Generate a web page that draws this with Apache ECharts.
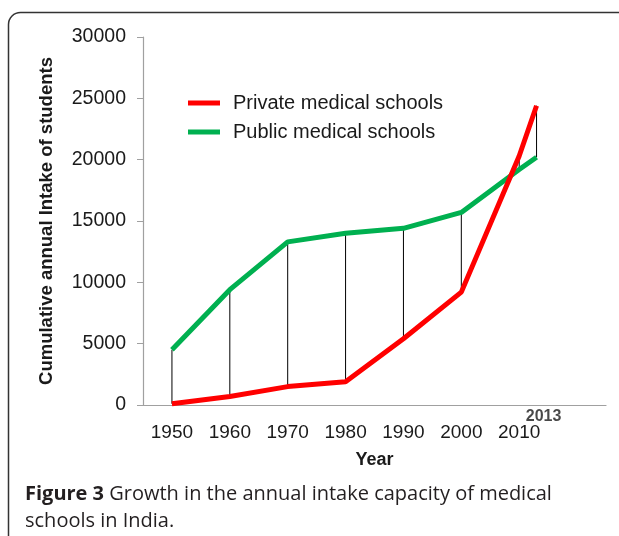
<!DOCTYPE html>
<html><head><meta charset="utf-8">
<script src="https://cdn.jsdelivr.net/npm/echarts@6/dist/echarts.min.js"></script>
<style>html,body{margin:0;padding:0;background:#fff}#c{width:619px;height:536px}</style>
</head><body><div id="c"></div>
<script>
var years = [1950, 1960, 1970, 1980, 1990, 2000, 2010, 2013];
var privateSchools = [100, 700, 1500, 1900, 5400, 9200, 20300, 24400];
var publicSchools = [4500, 9400, 13300, 14000, 14400, 15700, 19200, 20200];
var yTicks = [0, 5000, 10000, 15000, 20000, 25000, 30000];
var xLabelYears = [1950, 1960, 1970, 1980, 1990, 2000, 2010];
var lastYearLabel = '2013';

var chart = echarts.init(document.getElementById('c'), null, {renderer: 'canvas'});
var F = '"Liberation Sans", Arial, sans-serif';
function pairs(vals){ return years.map(function(y,i){ return [y, vals[i]]; }); }
var hiLo = years.map(function(y,i){ return [y, privateSchools[i], publicSchools[i]]; });

chart.setOption({
  animation: false,
  backgroundColor: '#fff',
  grid: {left: 143, right: 13, top: 37, bottom: 131, containLabel: false},
  legend: {
    orient: 'vertical', left: 183, top: 88, itemGap: 9,
    icon: 'rect', itemWidth: 32, itemHeight: 5,
    textStyle: {fontFamily: F, fontSize: 20, color: '#1a1a1a', padding: [0,0,0,8]},
    data: ['Private medical schools', 'Public medical schools']
  },
  xAxis: {
    type: 'value', min: 1945, max: 2025, interval: 5,
    name: 'Year', nameLocation: 'middle', nameGap: 46,
    nameTextStyle: {fontFamily: F, fontSize: 18, fontWeight: 'bold', color: '#1a1a1a'},
    axisLine: {show: true, onZero: false, lineStyle: {color: '#a0a0a0', width: 1.2}},
    axisTick: {show: false},
    splitLine: {show: false},
    axisLabel: {
      fontFamily: F, fontSize: 19, color: '#1a1a1a', margin: 18,
      formatter: function(v){ return xLabelYears.indexOf(v) >= 0 ? String(v) : ''; }
    }
  },
  yAxis: {
    type: 'value', min: yTicks[0], max: yTicks[yTicks.length-1], interval: 5000,
    name: 'Cumulative annual Intake of students', nameLocation: 'middle', nameGap: 87,
    nameTextStyle: {fontFamily: F, fontSize: 18.5, fontWeight: 'bold', color: '#1a1a1a'},
    axisLine: {show: true, lineStyle: {color: '#a0a0a0', width: 1.2}},
    axisTick: {show: true, inside: false, length: 6, lineStyle: {color: '#a0a0a0'}},
    splitLine: {show: false},
    axisLabel: {fontFamily: F, fontSize: 19.5, color: '#1a1a1a', margin: 17,
                formatter: function(v){ return String(v); }}
  },
  series: [
    {
      type: 'custom', name: 'hilo', z: 1, silent: true,
      renderItem: function(params, api){
        var a = api.coord([api.value(0), api.value(1)]);
        var b = api.coord([api.value(0), api.value(2)]);
        return {type: 'line', shape: {x1: a[0], y1: a[1], x2: b[0], y2: b[1]},
                style: {stroke: '#000', lineWidth: 1}};
      },
      encode: {x: 0, y: [1, 2]},
      data: hiLo
    },
    {
      type: 'line', name: 'Private medical schools', z: 4,
      data: pairs(privateSchools), symbol: 'none',
      lineStyle: {color: '#ff0000', width: 5}, itemStyle: {color: '#ff0000'}
    },
    {
      type: 'line', name: 'Public medical schools', z: 3,
      data: pairs(publicSchools), symbol: 'none',
      lineStyle: {color: '#00b050', width: 5}, itemStyle: {color: '#00b050'}
    },
    {
      type: 'scatter', name: 'lastYear', z: 5, silent: true,
      data: [[years[years.length-1], 0]], symbolSize: 0,
      label: {show: true, position: 'bottom', distance: 4, offset: [7, 0], formatter: lastYearLabel,
              fontFamily: F, fontSize: 16, fontWeight: 'bold', color: '#1a1a1a'}
    }
  ],
  graphic: [
    {type: 'rect', z: 0, shape: {x: 8.5, y: 12.5, width: 700, height: 600, r: 12},
     style: {fill: 'none', stroke: '#333', lineWidth: 1.5}},
    {type: 'text', left: 25, top: 481,
     style: {text: '{b|Figure 3} Growth in the annual intake capacity of medical\nschools in India.',
             font: '20px "Open Sans", sans-serif', fill: '#231f20', lineHeight: 27,
             rich: {b: {fontWeight: 'bold', fontFamily: '"Open Sans", sans-serif', fontSize: 20, fill: '#231f20'}}}}
  ]
});
</script></body></html>
